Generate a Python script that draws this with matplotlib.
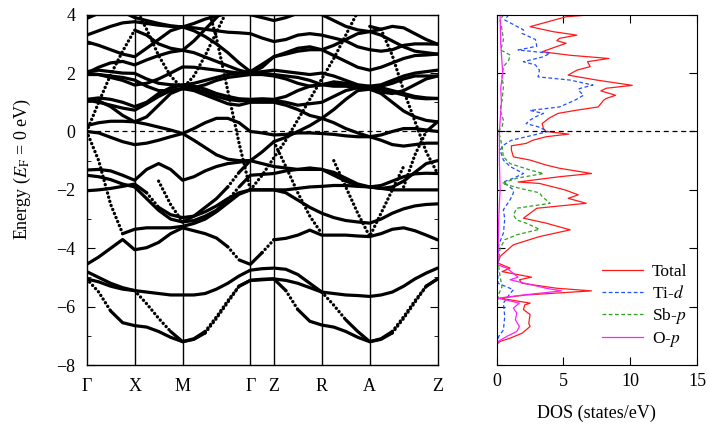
import numpy as np
import matplotlib
matplotlib.use("Agg")
import matplotlib.pyplot as plt
from matplotlib.ticker import MultipleLocator

plt.rcParams['font.family'] = ['Liberation Serif', 'DejaVu Serif']
plt.rcParams['mathtext.fontset'] = 'stix'

# k-path: high-symmetry labels and segment lengths (in units of a*)
kpath_labels = ['Γ', 'X', 'M', 'Γ', 'Z', 'R', 'A', 'Z']
seg_len = [1.0, 1.0, np.sqrt(2), 0.49, 1.0, 1.0, np.sqrt(2)]
seg_div = [4, 4, 6, 2, 4, 4, 6]

# band energies (eV) read at the sampled k-points, None = not drawn
N = None
band01 = [-5.05, -5.5, -6.15, -6.55, -6.65, -6.7, -6.85, -7.05, -7.2, -7.12, -6.9, -6.4, -5.85, -5.3, -5.1, -5.08, -5.05, -5.45, -6.1, -6.5, -6.63, -6.7, -6.85, -7.05, -7.2, -7.12, -6.9, -6.4, -5.85, -5.3, -5.05]
band02 = [-5.05, -5.15, -5.3, -5.4, -5.45, -5.9, -6.4, -6.85, -7.2, -7.1, -6.85, -6.35, -5.8, -5.3, -5.1, -5.06, -5.05, -5.1, -5.2, -5.35, -5.5, -5.95, -6.45, -6.85, -7.2, -7.1, -6.85, -6.35, -5.8, -5.3, -5.05]
band03 = [-4.8, -5.0, -5.2, -5.35, -5.45, -5.5, -5.55, -5.6, -5.6, -5.6, -5.55, -5.4, -5.2, -4.95, -4.75, -4.7, -4.68, -4.72, -4.9, -5.2, -5.5, -5.55, -5.6, -5.62, -5.65, -5.6, -5.5, -5.3, -5.05, -4.85, -4.68]
band04 = [-4.55, -4.3, -4.0, -3.7, -4.05, -3.98, -3.8, -3.5, -3.3, -3.4, -3.5, -3.65, -3.95, -4.4, -4.55, -4.15, -3.71, -3.66, -3.55, -3.38, -3.55, -3.55, -3.55, -3.58, -3.6, -3.5, -3.35, -3.3, -3.4, -3.55, -3.71]
band05 = [0.0, -1.0, -2.5, -3.5, -3.35, -3.3, -3.3, -3.3, -3.25, -3.15, -3.0, -2.75, -2.45, -2.15, -2.0, -2.0, -2.0, -2.0, -1.95, -1.9, -1.88, -1.85, -1.85, -1.88, -1.9, -1.95, -2.0, -2.0, -2.0, -2.0, -2.0]
band06 = [-2.03, -2.0, -1.95, -1.88, -1.8, -2.1, -2.6, -2.85, -2.95, -2.9, -2.75, -2.55, -2.3, -2.1, -2.0, -2.0, -2.0, -2.1, -2.35, -2.6, -2.8, -2.95, -3.05, -3.1, -3.14, -3.0, -2.8, -2.65, -2.55, -2.5, -2.48]
band07 = [-1.32, -1.3, -1.35, -1.5, -1.67, -1.3, -1.1, -1.3, -1.67, -1.55, -1.35, -1.2, -1.1, -1.05, -1.0, -1.1, -1.2, -1.25, -1.3, -1.3, -1.3, -1.4, -1.6, -1.8, -1.9, -1.85, -1.7, -1.55, -1.45, -1.43, -1.44]
band08 = [-1.5, -1.55, -1.65, -1.8, -1.9, -2.3, -2.7, -3.0, -3.1, -3.05, -2.9, -2.7, -2.35, -1.9, -1.5, -1.47, -1.44, -1.35, -1.3, -1.25, -1.3, -1.5, -1.7, -1.85, -1.9, -1.95, -1.9, -1.7, -1.4, -1.1, -1.0]
band09 = [0.0, -0.05, -0.2, -0.35, -0.45, -0.4, -0.3, -0.18, -0.07, 0.1, 0.3, 0.45, 0.45, 0.3, 0.0, -0.05, -0.12, -0.1, -0.05, -0.05, -0.07, -0.1, -0.15, -0.18, -0.18, -0.12, 0.0, 0.1, 0.1, 0.05, 0.0]
band10 = [0.2, 0.3, 0.35, 0.35, 0.33, 0.25, 0.15, 0.05, -0.07, -0.3, -0.55, -0.8, -0.95, -1.0, -1.0, -0.7, -0.35, -0.2, 0.0, 0.2, 0.45, 0.3, 0.1, -0.05, -0.18, -0.3, -0.45, -0.5, -0.45, -0.4, -0.4]
band11 = [1.07, 1.0, 0.9, 0.8, 0.73, 0.95, 1.2, 1.4, 1.47, 1.45, 1.35, 1.2, 1.1, 1.05, 1.07, 1.07, 1.07, 1.0, 0.9, 0.95, 1.0, 1.2, 1.4, 1.5, 1.5, 1.45, 1.35, 1.25, 1.15, 1.12, 1.13]
band12 = [1.1, 1.05, 0.85, 0.55, 0.33, 0.5, 0.9, 1.3, 1.47, 1.4, 1.25, 1.1, 0.95, 0.9, 1.0, 1.0, 1.0, 0.9, 0.75, 0.55, 0.45, 0.75, 1.1, 1.4, 1.45, 1.3, 1.0, 0.7, 0.5, 0.38, 0.33]
band13 = [1.1, 1.15, 1.1, 1.0, 0.85, 1.0, 1.3, 1.5, 1.59, 1.55, 1.45, 1.3, 1.2, 1.12, 1.1, 1.12, 1.1, 1.2, 1.4, 1.55, 1.6, 1.55, 1.55, 1.5, 1.55, 1.5, 1.4, 1.3, 1.2, 1.15, 1.13]
band14 = [2.0, 1.95, 1.85, 1.75, 1.59, 1.65, 1.8, 2.0, 2.21, 2.2, 2.15, 2.1, 2.05, 2.0, 2.0, 2.05, 2.1, 2.05, 2.0, 1.95, 2.0, 1.9, 1.75, 1.6, 1.55, 1.6, 1.75, 1.9, 2.0, 2.05, 2.1]
band15 = [2.05, 2.1, 2.05, 2.0, 1.99, 1.8, 1.65, 1.6, 1.59, 1.65, 1.75, 1.85, 1.95, 2.0, 2.05, 2.0, 1.95, 1.9, 1.85, 1.75, 1.6, 1.65, 1.6, 1.55, 1.5, 1.55, 1.65, 1.8, 1.9, 1.9, 1.9]
band16 = [1.95, 1.95, 1.9, 1.85, 1.76, 1.55, 1.4, 1.4, 1.47, 1.5, 1.6, 1.75, 1.85, 1.9, 1.95, 1.95, 1.9, 1.8, 1.65, 1.55, 1.6, 1.7, 1.65, 1.55, 1.45, 1.35, 1.3, 1.4, 1.6, 1.8, 1.9]
band17 = [2.0, 2.2, 2.35, 2.4, 2.28, 2.45, 2.6, 2.72, 2.78, 2.7, 2.55, 2.4, 2.25, 2.1, 2.0, 2.2, 2.56, 2.65, 2.75, 2.8, 2.8, 2.6, 2.4, 2.2, 2.1, 2.2, 2.35, 2.5, 2.6, 2.62, 2.65]
band18 = [3.87, 4.05, 4.2, 4.1, 3.9, 3.8, 3.7, 3.62, 3.58, 3.7, 3.85, 3.95, 4.05, 4.05, 4.0, 3.9, 3.8, 3.9, 4.05, 4.1, 4.0, 3.8, 3.6, 3.48, 3.42, 3.5, 3.6, 3.55, 3.35, 3.15, 2.99]
band19 = [3.3, 3.45, 3.6, 3.72, 3.76, 3.7, 3.64, 3.6, 3.58, 3.45, 3.25, 3.0, 2.7, 2.35, 2.05, 2.3, 2.56, 2.7, 2.85, 2.9, 2.8, 2.95, 3.15, 3.35, 3.42, 3.3, 3.1, 2.9, 2.75, 2.7, 2.65]
band20 = [3.07, 2.95, 2.8, 2.65, 2.56, 2.85, 3.15, 3.45, 3.58, 3.55, 3.5, 3.45, 3.4, 3.38, 3.35, 3.2, 3.08, 3.15, 3.3, 3.35, 3.3, 3.2, 3.1, 2.9, 2.8, 2.75, 2.8, 2.95, 3.0, 3.0, 2.99]
band21 = [0.0, 1.0, 1.95, 2.75, 3.47, 3.3, 3.0, 2.85, 2.78, 3.1, 3.5, 3.9, 4.3, N, N, N, N, N, N, N, N, N, N, N, N, N, N, N, N, N, N]
band22 = [N, N, N, 4.7, 4.3, 3.5, 2.6, 1.9, 1.47, 1.9, 2.6, 3.4, 4.2, N, N, N, N, N, N, N, N, N, N, N, N, N, N, N, N, N, N]
band23 = [N, N, N, N, N, N, N, N, N, N, 4.6, 3.2, 1.4, -0.4, -2.0, N, N, N, N, N, N, N, N, N, N, N, N, N, N, N, N]
band24 = [N, N, N, N, N, N, N, N, N, N, N, N, N, N, -2.0, -1.5, -0.9, -0.3, 0.4, 1.1, 1.8, 2.5, 3.3, 4.1, N, N, N, N, N, N, N]
band25 = [N, N, N, N, N, N, N, N, N, N, N, N, N, N, N, N, -0.35, -1.2, -2.1, -2.9, -3.5, N, N, N, N, N, N, N, N, N, N]
band26 = [N, N, N, N, N, N, N, N, N, N, N, N, N, N, N, N, N, N, N, N, N, N, N, N, 3.6, 3.5, 2.6, 1.4, 0.35, -0.7, -1.44]
band27 = [N, N, N, N, N, N, N, N, N, N, N, N, N, N, N, N, N, N, N, N, N, N, N, N, N, N, N, -1.9, -0.8, 0.0, 0.33]
band28 = [N, N, N, N, N, N, N, N, N, N, N, N, N, N, N, N, N, N, N, N, N, -1.0, -1.9, -2.8, -3.6, -2.8, -2.0, -1.2, N, N, N]
band29 = [N, N, N, N, N, N, -1.7, -2.5, -3.1, -2.9, -2.6, -2.3, -1.9, -1.4, -1.0, N, N, N, N, N, N, N, N, N, N, N, N, N, N, N, N]

bands = [band01, band02, band03, band04, band05, band06, band07, band08, band09, band10,
         band11, band12, band13, band14, band15, band16, band17, band18, band19, band20,
         band21, band22, band23, band24, band25, band26, band27, band28, band29]

# DOS curves (energy in eV, DOS in states/eV)
e_total = [4.0, 3.93, 3.59, 3.42, 3.3, 3.19, 3.11, 3.02, 2.91, 2.73, 2.61, 2.5, 2.39, 2.22, 2.1, 1.93, 1.76, 1.58, 1.48, 1.39, 1.24, 1.13, 1.07, 0.84, 0.73, 0.62, 0.45, 0.27, 0.1, 0.0,
           -0.09, -0.18, -0.3, -0.41, -0.49, -0.64, -0.87, -0.98, -1.15, -1.26, -1.44, -1.55, -1.73, -1.78, -2.0, -2.17, -2.29, -2.46, -2.63, -2.97, -3.14, -3.37, -3.6, -3.88,
           -4.28, -4.51, -4.68, -4.8, -4.99, -5.08, -5.2, -5.37, -5.46, -5.6, -5.71, -5.88, -5.94, -6.1, -6.27, -6.57, -6.68, -6.91, -7.08, -7.19, -7.3, -8.0]
dos_total = [7.2, 5.2, 2.5, 4.2, 6.0, 4.7, 4.5, 5.2, 4.5, 3.4, 5.5, 8.4, 6.8, 7.0, 6.0, 5.35, 7.5, 10.15, 8.2, 7.8, 8.9, 8.2, 8.0, 7.6, 6.0, 4.6, 3.9, 3.4, 3.5, 3.7,
             5.4, 3.7, 2.7, 2.2, 1.1, 1.1, 1.25, 2.5, 3.7, 4.7, 7.1, 4.7, 1.6, 3.2, 5.1, 6.1, 5.35, 6.7, 3.0, 2.0, 3.7, 5.5, 3.2, 1.25,
             0.25, 0.1, 1.0, 0.4, 2.6, 1.7, 1.9, 4.5, 7.1, 2.2, 0.25, 2.5, 2.1, 2.0, 2.5, 2.4, 2.5, 1.9, 1.0, 0.25, 0.0, 0.0]
e_tid = [4.0, 3.82, 3.48, 3.36, 3.15, 2.92, 2.79, 2.68, 2.56, 2.39, 2.28, 2.1, 1.87, 1.76, 1.59, 1.47, 1.42, 1.24, 1.07, 0.84, 0.72, 0.62, 0.5, 0.39, 0.27, 0.16, 0.0,
         -0.13, -0.3, -0.47, -0.64, -0.98, -1.2, -1.44, -1.6, -1.73, -2.0, -2.1, -2.34, -2.68, -3.0, -3.48, -3.88, -4.5, -5.2, -5.42, -5.55, -5.88, -6.34, -6.8, -7.02, -7.3, -8.0]
dos_tid = [0.9, 0.6, 2.0, 1.9, 2.9, 3.0, 1.6, 4.0, 3.5, 2.0, 2.9, 3.2, 3.1, 5.5, 7.2, 6.2, 6.1, 6.5, 5.85, 4.7, 2.5, 3.5, 2.9, 2.5, 2.2, 3.1, 3.85,
           2.7, 1.1, 0.5, 0.25, 0.5, 1.0, 2.0, 1.25, 0.5, 1.25, 1.25, 1.0, 0.5, 0.6, 0.5, 0.15, 0.05, 0.1, 1.25, 1.0, 0.5, 0.6, 0.5, 0.15, 0.0, 0.0]
e_sbp = [4.0, 3.82, 3.48, 3.14, 2.79, 2.62, 2.44, 2.22, 1.87, 1.53, 1.07, 0.73, 0.39, 0.16, 0.0, -0.18, -0.52, -0.87, -1.1, -1.32, -1.44, -1.6, -1.78, -1.95,
         -2.1, -2.23, -2.46, -2.63, -2.86, -3.03, -3.14, -3.35, -3.54, -3.71, -4.0, -4.5, -4.97, -5.31, -5.6, -6.0, -7.0, -8.0]
dos_sbp = [0.5, 0.25, 0.4, 0.5, 0.3, 1.0, 0.9, 0.5, 0.4, 0.5, 0.4, 0.25, 0.5, 0.4, 0.1, 0.25, 0.4, 0.5, 1.0, 2.5, 3.5, 1.5, 0.4, 1.75,
           3.2, 3.4, 4.0, 1.5, 1.25, 1.5, 2.2, 3.2, 1.5, 0.6, 0.25, 0.12, 0.25, 0.4, 0.12, 0.05, 0.02, 0.0]
e_op = [4.0, 3.0, 2.0, 1.5, 1.0, 0.0, -1.0, -2.0, -3.0, -4.0, -4.57, -4.68, -4.99, -5.08, -5.37, -5.46, -5.6, -5.71, -5.88, -6.05, -6.22, -6.45, -6.68, -6.85, -7.02, -7.19, -7.3, -8.0]
dos_op = [0.25, 0.3, 0.45, 0.3, 0.35, 0.2, 0.2, 0.25, 0.15, 0.1, 0.1, 0.75, 1.6, 1.0, 3.7, 4.85, 2.0, 0.1, 1.7, 1.25, 1.5, 1.4, 1.7, 1.5, 0.75, 0.12, 0.0, 0.0]

# k positions of the sampled points
node_k = np.concatenate([[0.0], np.cumsum(seg_len)])
kpts = [0.0]
for i in range(len(seg_len)):
    kpts.extend(np.linspace(node_k[i], node_k[i + 1], seg_div[i] + 1)[1:])
kpts = np.array(kpts)

fig = plt.figure(figsize=(7.09, 4.32), dpi=100)
ax = fig.add_axes([0.1223, 0.155, 0.4948, 0.811])
ax2 = fig.add_axes([0.7006, 0.155, 0.2825, 0.811])

dot_style = (0, (0.05, 1.25))
steep = 1.7  # eV per unit k where the dots separate

for band in bands:
    e = np.array([np.nan if v is None else v for v in band], dtype=float)
    slope = np.abs(np.diff(e)) / np.diff(kpts)
    i = 0
    while i < len(slope):
        if np.isnan(slope[i]):
            i += 1
            continue
        is_steep = slope[i] > steep
        j = i
        while j + 1 < len(slope) and not np.isnan(slope[j + 1]) and (slope[j + 1] > steep) == is_steep:
            j += 1
        ks = kpts[i:j + 2]
        es = e[i:j + 2]
        if is_steep:
            ax.plot(ks, es, color='k', lw=2.4, ls=dot_style, dash_capstyle='round')
        else:
            ax.plot(ks, es, color='k', lw=2.3, solid_capstyle='round')
        i = j + 1

for k in node_k[1:-1]:
    ax.axvline(k, color='k', lw=1.0)
ax.axhline(0, color='k', lw=0.9, ls=(0, (4, 3)))

ax.set_xlim(node_k[0], node_k[-1])
ax.set_ylim(-8, 4)
ax.set_xticks(node_k)
ax.set_xticklabels(kpath_labels, fontsize=13)
ax.tick_params(axis='x', length=0, pad=9)
ax.yaxis.set_major_locator(MultipleLocator(2))
ax.yaxis.set_minor_locator(MultipleLocator(1))
ax.tick_params(axis='y', which='both', direction='in', left=True, right=True, labelsize=13, pad=8)
ax.tick_params(axis='y', which='major', length=6)
ax.tick_params(axis='y', which='minor', length=3)
for s in ax.spines.values():
    s.set_linewidth(1.0)

# DOS panel
ax2.plot(dos_total, e_total, color='#ff1a1a', lw=0.9, label='Total')
ax2.plot(dos_tid, e_tid, color='#2050ff', lw=0.9, ls=(0, (3, 2)), label='Ti-$\\it{d}$')
ax2.plot(dos_sbp, e_sbp, color='#30a020', lw=0.9, ls=(0, (3, 2)), label='Sb-$\\it{p}$')
ax2.plot(dos_op, e_op, color='#ff20ff', lw=0.9, label='O-$\\it{p}$')
ax2.axhline(0, color='k', lw=0.9, ls=(0, (4, 3)))
ax2.set_xlim(0, 15)
ax2.set_ylim(-8, 4)
ax2.xaxis.set_major_locator(MultipleLocator(5))
ax2.yaxis.set_major_locator(MultipleLocator(2))
ax2.tick_params(direction='in', top=True, right=True, length=6, labelsize=13, pad=6)
ax2.tick_params(axis='y', labelleft=False)
ax2.set_xlabel('DOS (states/eV)', fontsize=13, labelpad=10)
ax2.legend(loc='lower right', bbox_to_anchor=(1.03, 0.0), frameon=False, fontsize=12.5,
           handlelength=2.4, labelspacing=0.25, handletextpad=0.5)

fig.text(0.031, 1 - 169 / 432, 'Energy ($E_{\\rm F}$ = 0 eV)', rotation=90, fontsize=13,
         ha='center', va='center')

fig.savefig('out.png', dpi=100)
